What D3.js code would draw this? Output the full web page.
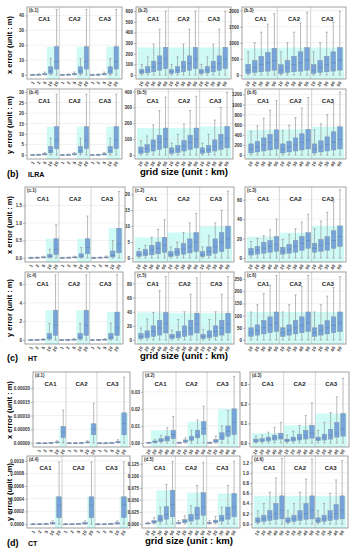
<!DOCTYPE html>
<html>
<head>
<meta charset="utf-8">
<script src="https://cdnjs.cloudflare.com/ajax/libs/d3/7.8.5/d3.min.js"></script>
<style>
body { margin: 0; background: #ffffff; }
text { font-family: "Liberation Sans", Arial, sans-serif; }
</style>
</head>
<body>
<svg id="fig" width="356" height="550"></svg>
<script>
// 分组与网格尺寸
var groups = ["CA1", "CA2", "CA3"];
var gridFine = ["1", "2", "5", "10", "20"];
var gridCoarse = ["10", "20", "30", "40", "50"];

// 每个箱子: [下须, Q1, 中位数, Q3, 上须]，每组 5 个，共 3 组
var b1 = [[0,0,0.1,0.2,0.4],[0,0.1,0.2,0.4,0.8],[0,0.2,0.5,1,2],[0,1,2.5,5.5,11],[0,4,9,19,44],
          [0,0,0.1,0.2,0.4],[0,0.1,0.2,0.4,0.8],[0,0.2,0.5,1,2],[0,1,2.5,5.5,11],[0,4,9,19,44],
          [0,0,0.1,0.2,0.4],[0,0.1,0.2,0.4,0.8],[0,0.2,0.5,1,2],[0,1,2.5,5.5,11],[0,4,9,19,44]];
var b2 = [[0,15,30,50,100],[0,20,45,80,170],[0,30,75,130,290],[0,45,110,180,430],[0,60,150,260,600],
          [0,15,30,50,100],[0,20,45,80,170],[0,30,75,130,290],[0,45,110,180,430],[0,60,150,260,600],
          [0,15,30,50,100],[0,20,45,80,170],[0,30,75,130,290],[0,45,110,180,430],[0,60,150,260,600]];
var b3 = [[0,50,150,330,720],[0,80,230,450,1000],[0,100,320,580,1330],[0,120,380,700,1580],[0,150,450,830,1900],
          [0,50,150,320,720],[0,80,230,450,1000],[0,100,320,580,1330],[0,120,380,720,1620],[0,150,460,850,1950],
          [0,50,150,320,720],[0,80,230,450,1000],[0,100,320,580,1330],[0,120,380,720,1640],[0,150,460,850,1980]];
var b4 = [[0,0,0.05,0.1,0.2],[0,0.05,0.1,0.2,0.4],[0,0.1,0.3,0.6,1.2],[0,1,2,4,8],[0,3,7,13.5,29],
          [0,0,0.05,0.1,0.2],[0,0.05,0.1,0.2,0.4],[0,0.1,0.3,0.6,1.2],[0,1,2,4,8],[0,3,7,13.5,29],
          [0,0,0.05,0.1,0.2],[0,0.05,0.1,0.2,0.4],[0,0.1,0.3,0.6,1.2],[0,1,2,4,8],[0,3,7,13.5,29]];
var b5 = [[0,10,25,50,90],[0,15,40,65,120],[0,25,60,95,190],[0,35,80,125,280],[0,45,100,170,365],
          [0,10,25,45,75],[0,15,35,60,130],[0,25,55,90,195],[0,35,80,125,280],[0,45,100,170,370],
          [0,10,25,45,75],[0,15,35,60,130],[0,25,55,95,220],[0,35,80,130,300],[0,45,105,180,395]];
var b6 = [[0,40,120,220,470],[0,60,160,270,580],[0,80,200,340,730],[0,100,250,410,890],[0,120,300,500,1080],
          [0,40,120,220,480],[0,60,160,270,590],[0,80,200,340,740],[0,100,250,420,930],[0,120,300,510,1140],
          [0,40,120,220,500],[0,60,160,280,620],[0,80,210,360,800],[0,100,260,460,1030],[0,120,310,560,1250]];
var c1 = [[0,0,0.005,0.01,0.02],[0,0.005,0.01,0.02,0.03],[0,0.01,0.02,0.03,0.05],[0,0.02,0.05,0.1,0.25],[0,0.1,0.25,0.55,0.95],
          [0,0,0.005,0.01,0.02],[0,0.005,0.01,0.02,0.03],[0,0.01,0.02,0.03,0.05],[0,0.02,0.05,0.12,0.3],[0,0.12,0.3,0.55,1.2],
          [0,0,0.005,0.01,0.02],[0,0.005,0.01,0.02,0.03],[0,0.01,0.02,0.03,0.06],[0,0.03,0.07,0.2,0.5],[0,0.15,0.4,0.85,1.9]];
var c2 = [[0,0.5,1,2,3],[0,0.7,1.5,2.7,4],[0,1,2.5,4,6.5],[0,1.3,3,5,9],[0,1.8,4,6.5,12],
          [0,0.5,1,2,3.5],[0,0.8,1.8,3,5],[0,1.2,2.8,4.5,8],[0,1.6,3.5,6,11],[0,2,5,8,14],
          [0,0.5,1,2,3.5],[0,0.8,2,3.5,7],[0,1.5,3.5,6,11],[0,2,5,8,15],[0,3,6,10,21]];
var c3 = [[0,3,6,10,17],[0,4,8,12,20],[0,5,10,16,23],[0,6,12,18,29],[0,7,14,22,40],
          [0,4,7,11,19],[0,5,9,14,24],[0,6,12,18,30],[0,8,15,22,37],[0,10,18,26,45],
          [0,6,10,15,30],[0,7,13,19,38],[0,8,15,22,47],[0,10,18,28,58],[0,12,22,33,70]];
var c4 = [[0,0,0.01,0.02,0.04],[0,0.01,0.02,0.03,0.06],[0,0.02,0.04,0.08,0.15],[0,0.1,0.3,0.7,1.8],[0,0.5,1.6,3.2,7],
          [0,0,0.01,0.02,0.04],[0,0.01,0.02,0.03,0.06],[0,0.02,0.04,0.08,0.15],[0,0.1,0.3,0.7,1.8],[0,0.5,1.6,3.2,7],
          [0,0,0.01,0.02,0.04],[0,0.01,0.02,0.03,0.06],[0,0.02,0.04,0.08,0.15],[0,0.1,0.3,0.7,1.8],[0,0.5,1.3,3,7]];
var c5 = [[0,2,5,9,17],[0,3,8,13,30],[0,5,12,20,39],[0,7,17,28,70],[0,10,23,39,90],
          [0,2,5,8,14],[0,3,7,12,29],[0,5,12,20,40],[0,7,17,28,65],[0,10,23,38,88],
          [0,2,5,8,15],[0,3,7,13,29],[0,5,12,20,40],[0,7,17,28,65],[0,10,23,38,90]];
var c6 = [[0,15,30,50,115],[0,20,40,62,145],[0,25,50,80,190],[0,30,60,95,225],[0,35,70,115,265],
          [0,15,30,50,115],[0,20,40,62,145],[0,25,50,80,185],[0,30,60,95,220],[0,35,70,115,265],
          [0,15,30,50,115],[0,20,40,62,145],[0,25,50,80,180],[0,30,60,95,215],[0,35,70,115,260]];
var d1 = [[0,0,0,0,0.000001],[0,0,0,0,0.000001],[0,0,0,0.000001,0.000002],[0,0.000001,0.000002,0.000004,0.000008],[0,0.00002,0.00004,0.00006,0.00012],
          [0,0,0,0,0.000001],[0,0,0,0,0.000001],[0,0,0,0.000001,0.000002],[0,0.000001,0.000002,0.000004,0.000008],[0,0.00003,0.00005,0.00007,0.000145],
          [0,0,0,0,0.000001],[0,0,0,0,0.000001],[0,0,0,0.000001,0.000002],[0,0.000001,0.000003,0.000006,0.000012],[0,0.00003,0.00007,0.00011,0.00024]];
var d2 = [[0,0.0001,0.0002,0.0003,0.0005],[0,0.0003,0.0007,0.0012,0.002],[0,0.0008,0.0015,0.0025,0.0045],[0,0.0012,0.0025,0.004,0.009],[0,0.0025,0.005,0.0075,0.0155],
          [0,0.0001,0.0002,0.0003,0.0005],[0,0.0005,0.001,0.0018,0.003],[0,0.0015,0.0025,0.004,0.0075],[0,0.003,0.0045,0.0075,0.0135],[0,0.005,0.0085,0.0125,0.0215],
          [0,0.0001,0.0002,0.0003,0.0005],[0,0.0005,0.0012,0.002,0.004],[0,0.002,0.0035,0.006,0.01],[0,0.004,0.007,0.01,0.019],[0,0.005,0.012,0.02,0.039]];
var d3v = [[0,0.005,0.01,0.02,0.035],[0,0.007,0.015,0.022,0.04],[0,0.01,0.02,0.03,0.055],[0,0.015,0.025,0.04,0.08],[0,0.02,0.03,0.05,0.105],
           [0,0.007,0.013,0.02,0.04],[0,0.01,0.02,0.03,0.06],[0,0.015,0.025,0.045,0.09],[0,0.02,0.035,0.065,0.14],[0,0.025,0.05,0.09,0.205],
           [0,0.012,0.02,0.03,0.065],[0,0.015,0.03,0.045,0.105],[0,0.02,0.04,0.07,0.155],[0,0.03,0.05,0.105,0.235],[0,0.035,0.07,0.15,0.33]];
var d4 = [[0,0,0,0,0.000005],[0,0,0,0,0.000005],[0,0,0,0.000005,0.00001],[0,0,0.00001,0.00002,0.00005],[0,0.0001,0.0003,0.00043,0.00098],
          [0,0,0,0,0.000005],[0,0,0,0,0.000005],[0,0,0,0.000005,0.00001],[0,0,0.00001,0.00002,0.00005],[0,0.0001,0.0003,0.00043,0.00098],
          [0,0,0,0,0.000005],[0,0,0,0,0.000005],[0,0,0,0.000005,0.00001],[0,0,0.00001,0.00002,0.00005],[0,0.0001,0.0003,0.00043,0.00098]];
var d5 = [[0,0.0005,0.001,0.002,0.004],[0,0.002,0.004,0.007,0.013],[0,0.005,0.01,0.018,0.035],[0,0.01,0.02,0.036,0.082],[0,0.015,0.04,0.07,0.13],
          [0,0.001,0.002,0.003,0.007],[0,0.003,0.006,0.009,0.017],[0,0.006,0.012,0.02,0.038],[0,0.01,0.02,0.035,0.08],[0,0.018,0.035,0.065,0.128],
          [0,0.001,0.002,0.003,0.007],[0,0.003,0.005,0.008,0.016],[0,0.006,0.011,0.018,0.035],[0,0.01,0.02,0.035,0.08],[0,0.015,0.035,0.063,0.13]];
var d6 = [[0,0.03,0.07,0.12,0.26],[0,0.05,0.1,0.17,0.4],[0,0.07,0.14,0.26,0.62],[0,0.09,0.2,0.4,0.9],[0,0.1,0.27,0.55,1.28],
          [0,0.03,0.07,0.12,0.26],[0,0.05,0.1,0.17,0.4],[0,0.07,0.14,0.26,0.62],[0,0.09,0.2,0.4,0.88],[0,0.1,0.27,0.55,1.27],
          [0,0.03,0.07,0.12,0.26],[0,0.05,0.1,0.17,0.4],[0,0.07,0.14,0.26,0.6],[0,0.09,0.2,0.38,0.86],[0,0.1,0.27,0.55,1.24]];

// 纵轴刻度
var b1Ticks = [0, 10, 20, 30, 40];
var b2Ticks = [0, 100, 200, 300, 400, 500, 600];
var b3Ticks = [0, 500, 1000, 1500, 2000];
var b4Ticks = [0, 5, 10, 15, 20, 25, 30];
var b5Ticks = [0, 100, 200, 300, 400];
var b6Ticks = [0, 200, 400, 600, 800, 1000, 1200];
var c1Ticks = [0, 0.5, 1.0, 1.5];
var c2Ticks = [0, 5, 10, 15, 20];
var c3Ticks = [0, 20, 40, 60];
var c4Ticks = [0, 2, 4, 6];
var c5Ticks = [0, 20, 40, 60, 80];
var c6Ticks = [0, 50, 100, 150, 200, 250];
var d1Ticks = [0, 0.00005, 0.0001, 0.00015, 0.0002];
var d2Ticks = [0, 0.01, 0.02, 0.03];
var d3Ticks = [0, 0.1, 0.2, 0.3];
var d4Ticks = [0, 0.0002, 0.0004, 0.0006, 0.0008, 0.001];
var d5Ticks = [0, 0.025, 0.05, 0.075, 0.1, 0.125];
var d6Ticks = [0, 0.2, 0.4, 0.6, 0.8, 1.0, 1.2];

var svg = d3.select("#fig");

// 面板位置 [左, 右, 上, 下]，top 为纵轴上限，fmt 为刻度格式
var panels = [
    {name: "(b.1)", data: b1, ticks: b1Ticks, top: 45, fmt: "d", xl: gridFine, box: [27, 122, 7, 79]},
    {name: "(b.2)", data: b2, ticks: b2Ticks, top: 630, fmt: "d", xl: gridCoarse, box: [136, 231, 7, 79]},
    {name: "(b.3)", data: b3, ticks: b3Ticks, top: 2080, fmt: "d", xl: gridCoarse, box: [242, 346, 7, 79]},
    {name: "(b.4)", data: b4, ticks: b4Ticks, top: 31, fmt: "d", xl: gridFine, box: [27, 122, 89, 159]},
    {name: "(b.5)", data: b5, ticks: b5Ticks, top: 410, fmt: "d", xl: gridCoarse, box: [135, 233, 89, 159]},
    {name: "(b.6)", data: b6, ticks: b6Ticks, top: 1290, fmt: "d", xl: gridCoarse, box: [245, 346, 89, 159]},
    {name: "(c.1)", data: c1, ticks: c1Ticks, top: 2.0, fmt: ".1f", xl: gridFine, box: [25, 125, 187, 262]},
    {name: "(c.2)", data: c2, ticks: c2Ticks, top: 22, fmt: "d", xl: gridCoarse, box: [133, 234, 187, 262]},
    {name: "(c.3)", data: c3, ticks: c3Ticks, top: 72, fmt: "d", xl: gridCoarse, box: [245, 346, 187, 262]},
    {name: "(c.4)", data: c4, ticks: c4Ticks, top: 7.2, fmt: "d", xl: gridFine, box: [25, 123, 272, 344]},
    {name: "(c.5)", data: c5, ticks: c5Ticks, top: 95, fmt: "d", xl: gridCoarse, box: [135, 234, 272, 344]},
    {name: "(c.6)", data: c6, ticks: c6Ticks, top: 275, fmt: "d", xl: gridCoarse, box: [245, 346, 272, 344]},
    {name: "(d.1)", data: d1, ticks: d1Ticks, top: 0.000255, fmt: ".5f", xl: gridFine, box: [33, 130, 372, 447]},
    {name: "(d.2)", data: d2, ticks: d2Ticks, top: 0.041, fmt: ".2f", xl: gridCoarse, box: [143, 240, 372, 447]},
    {name: "(d.3)", data: d3v, ticks: d3Ticks, top: 0.357, fmt: ".1f", xl: gridCoarse, box: [250, 349, 372, 447]},
    {name: "(d.4)", data: d4, ticks: d4Ticks, top: 0.00106, fmt: ".4f", xl: gridFine, box: [27, 130, 456, 528]},
    {name: "(d.5)", data: d5, ticks: d5Ticks, top: 0.139, fmt: ".3f", xl: gridCoarse, box: [142, 240, 456, 528]},
    {name: "(d.6)", data: d6, ticks: d6Ticks, top: 1.31, fmt: ".1f", xl: gridCoarse, box: [252, 348, 456, 528]}
];

panels.map(drawPanel);

// 标题文字
var yTitles = [
    {t: "x  error  (unit : m)", y: 45}, {t: "y  error  (unit : m)", y: 125},
    {t: "x  error  (unit : m)", y: 225}, {t: "y  error  (unit : m)", y: 308},
    {t: "x  error  (unit : m)", y: 410}, {t: "y  error  (unit : m)", y: 492}
];
yTitles.map(function (d) {
    svg.append("text")
        .attr("transform", "translate(10," + d.y + ") rotate(-90)")
        .attr("text-anchor", "middle")
        .attr("dominant-baseline", "middle")
        .style("font-size", "7.5px")
        .style("font-weight", "bold")
        .text(d.t);
});

var sections = [{tag: "(b)", name: "ILRA", y: 177}, {tag: "(c)", name: "HT", y: 361}, {tag: "(d)", name: "CT", y: 546}];
sections.map(function (d) {
    svg.append("text").attr("x", 7).attr("y", d.y)
        .style("font-size", "9px").style("font-weight", "bold").text(d.tag);
    svg.append("text").attr("x", 28).attr("y", d.y)
        .style("font-size", "7px").style("font-weight", "bold").text(d.name);
    svg.append("text").attr("x", d.tag == "(d)" ? 145 : 140).attr("y", d.y - 2)
        .attr("textLength", 88).attr("lengthAdjust", "spacingAndGlyphs")
        .style("font-size", "9px").style("font-weight", "bold")
        .text("grid size  (unit : km)");
});

function drawPanel(p) {
    var x0 = p.box[0], x1 = p.box[1], y0 = p.box[2], y1 = p.box[3];
    var g = svg.append("g");

    var x = d3.scaleBand()
        .domain(d3.range(15))
        .range([x0 + 2, x1 - 2])
        .padding(0.28);
    var y = d3.scaleLinear()
        .domain([0, p.top])
        .range([y1 - 4, y0 + 1]);
    var groupW = (x1 - x0 - 4) / 3;

    // 青色高亮带
    groups.map(function (name, gi) {
        var rows = p.data.slice(gi * 5, gi * 5 + 5);
        var maxQ3 = d3.max(rows, function (r) { return r[3]; });
        var start = 0;
        while (start < 5 && rows[start][3] < maxQ3 * 0.15) start++;
        var left = start == 0 ? x0 + 2 + gi * groupW : x(gi * 5 + start) - x.step() * x.padding();
        g.append("rect")
            .attr("x", left)
            .attr("y", y(maxQ3))
            .attr("width", x0 + 2 + (gi + 1) * groupW - left)
            .attr("height", y1 - y(maxQ3))
            .attr("fill", "#4ff0de")
            .attr("opacity", 0.28);
    });

    // 网格线
    g.selectAll("line.hgrid").data(p.ticks).enter().append("line")
        .attr("x1", x0).attr("x2", x1)
        .attr("y1", function (d) { return y(d); })
        .attr("y2", function (d) { return y(d); })
        .attr("stroke", "#e4e4e4").attr("stroke-width", 0.5);
    [1, 2].map(function (i) {
        g.append("line")
            .attr("x1", x0 + 2 + i * groupW).attr("x2", x0 + 2 + i * groupW)
            .attr("y1", y0).attr("y2", y1)
            .attr("stroke", "#b8b8b8").attr("stroke-width", 0.6);
    });

    // 边框
    g.append("rect")
        .attr("x", x0).attr("y", y0)
        .attr("width", x1 - x0).attr("height", y1 - y0)
        .attr("fill", "none").attr("stroke", "#8a8a8a").attr("stroke-width", 0.8);

    g.append("text").attr("x", x0 + 2).attr("y", y0 + 5)
        .style("font-size", "4.5px").style("font-weight", "bold").attr("fill", "#333")
        .text(p.name);
    groups.map(function (name, gi) {
        g.append("text")
            .attr("x", x0 + 2 + (gi + 0.5) * groupW)
            .attr("y", y0 + 14)
            .attr("text-anchor", "middle")
            .style("font-size", "6px").style("font-weight", "bold").attr("fill", "#222")
            .text(name);
    });

    // 纵轴
    var yAxis = d3.axisLeft(y).tickValues(p.ticks).tickSize(2).tickPadding(1)
        .tickFormat(d3.format(p.fmt));
    var ya = g.append("g").attr("transform", "translate(" + x0 + ",0)").call(yAxis);
    ya.select(".domain").remove();
    ya.selectAll("line").attr("stroke", "#777").attr("stroke-width", 0.5);
    ya.selectAll("text").style("font-size", "4.5px").style("font-weight", "bold")
        .attr("fill", "#333").style("font-family", "Liberation Sans, Arial, sans-serif");

    // 横轴刻度标签
    var xa = g.append("g").attr("transform", "translate(0," + y1 + ")");
    xa.selectAll("text").data(d3.range(15)).enter().append("text")
        .attr("transform", function (i) {
            return "translate(" + (x(i) + x.bandwidth() / 2 + 1) + ",3) rotate(-60)";
        })
        .attr("text-anchor", "end")
        .attr("dominant-baseline", "middle")
        .style("font-size", "4.5px").style("font-weight", "bold").attr("fill", "#333")
        .text(function (i) { return p.xl[i % 5]; });

    // 箱线
    var boxes = g.selectAll("g.box").data(p.data).enter().append("g");
    boxes.append("line")
        .attr("x1", function (d, i) { return x(i) + x.bandwidth() / 2; })
        .attr("x2", function (d, i) { return x(i) + x.bandwidth() / 2; })
        .attr("y1", function (d) { return y(d[0]); })
        .attr("y2", function (d) { return y(d[4]); })
        .attr("stroke", "#8c8c8c").attr("stroke-width", 0.6);
    [0, 4].map(function (k) {
        boxes.append("line")
            .attr("x1", function (d, i) { return x(i) + x.bandwidth() * 0.25; })
            .attr("x2", function (d, i) { return x(i) + x.bandwidth() * 0.75; })
            .attr("y1", function (d) { return y(d[k]); })
            .attr("y2", function (d) { return y(d[k]); })
            .attr("stroke", "#8c8c8c").attr("stroke-width", 0.6);
    });
    boxes.append("rect")
        .attr("x", function (d, i) { return x(i); })
        .attr("y", function (d) { return y(d[3]); })
        .attr("width", x.bandwidth())
        .attr("height", function (d) { return Math.max(0.8, y(d[1]) - y(d[3])); })
        .attr("fill", "#76a3da")
        .attr("stroke", "#8894a8").attr("stroke-width", 0.5);
    boxes.append("line")
        .attr("x1", function (d, i) { return x(i); })
        .attr("x2", function (d, i) { return x(i) + x.bandwidth(); })
        .attr("y1", function (d) { return y(d[2]); })
        .attr("y2", function (d) { return y(d[2]); })
        .attr("stroke", "#5a7fae").attr("stroke-width", 0.5);
}
</script>
</body>
</html>
